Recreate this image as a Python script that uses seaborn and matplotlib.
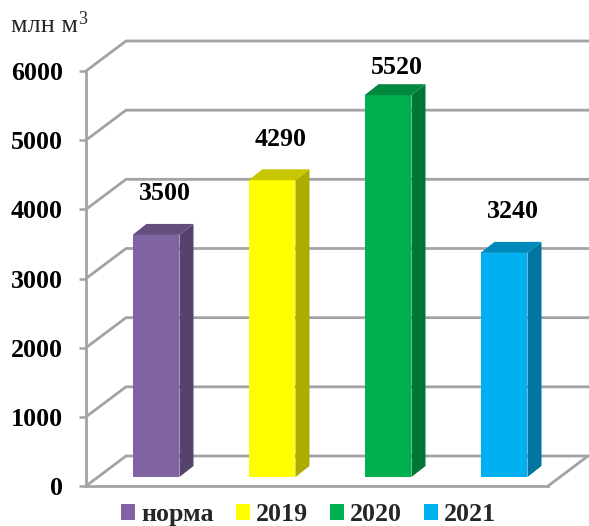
import colorsys

import matplotlib
matplotlib.use("Agg")
import matplotlib.pyplot as plt
import pandas as pd
import seaborn as sns
from matplotlib.colors import to_rgb
from matplotlib.patches import Polygon

categories = ["норма", "2019", "2020", "2021"]
volumes = [3500, 4290, 5520, 3240]
bar_colors = ["#8064A2", "#FFFF00", "#00B050", "#00B0F0"]
y_ticks = [0, 1000, 2000, 3000, 4000, 5000, 6000]

W, H = 589, 526
GRAY = "#A3A3A3"


def shade(color, factor):
    r, g, b = to_rgb(color)
    h, s, v = colorsys.rgb_to_hsv(r, g, b)
    return colorsys.hsv_to_rgb(h, s, v * factor)


sns.set_style("white")
plt.rcParams["font.family"] = ["Liberation Serif", "DejaVu Serif"]
plt.rcParams["font.weight"] = "bold"

fig = plt.figure(figsize=(W / 100, H / 100), dpi=100)
# front plane of the fake 3D box, in pixels: x 86-548, y 71-486
ax = fig.add_axes([86 / W, 1 - 486 / H, (548 - 86) / W, (486 - 71) / H])

df = pd.DataFrame({"cat": categories, "value": volumes})
sns.barplot(
    data=df, x="cat", y="value", hue="cat", order=categories, hue_order=categories,
    palette=bar_colors, width=0.405, saturation=1, legend="full", linewidth=0, ax=ax,
)

ax.set_xlim((86 - 156) / 116, (548 - 156) / 116)
ax.set_ylim(0, 6000)
px_x = (ax.get_xlim()[1] - ax.get_xlim()[0]) / (548 - 86)
px_y = 6000 / (486 - 71)


def to_x(px):
    return ax.get_xlim()[0] + (px - 86) * px_x


# walls and floor
back_dx, back_dy = 40 * px_x, 30 * px_y
left, right = ax.get_xlim()
far_right = to_x(W)
for tick in y_ticks:
    ax.plot(
        [left, left + back_dx, far_right],
        [tick, tick + back_dy, tick + back_dy],
        color=GRAY, lw=2.0, clip_on=False, zorder=1, solid_joinstyle="miter",
    )
ax.plot([right, right + back_dx], [0, back_dy], color=GRAY, lw=2.0, clip_on=False, zorder=1)

# bars sit a little behind the front plane; add side and top faces
lift = 9 * px_y
side_dx, side_dy = 14 * px_x, 11 * px_y
label_lift = [30, 30, 17, 30]
for patch, color, value, extra in zip(ax.patches, bar_colors, volumes, label_lift):
    x0 = patch.get_x()
    x1 = x0 + patch.get_width()
    patch.set_y(lift)
    patch.set_clip_on(False)
    patch.set_zorder(3)
    top = lift + value
    ax.add_patch(Polygon(
        [(x1, lift), (x1, top), (x1 + side_dx, top + side_dy), (x1 + side_dx, lift + side_dy)],
        closed=True, facecolor=shade(color, 0.67), edgecolor="none", clip_on=False, zorder=3,
    ))
    ax.add_patch(Polygon(
        [(x0, top), (x1, top), (x1 + side_dx, top + side_dy), (x0 + side_dx, top + side_dy)],
        closed=True, facecolor=shade(color, 0.78), edgecolor="none", clip_on=False, zorder=3,
    ))
    ax.text(
        (x0 + x1) / 2 + 9 * px_x, top + side_dy + extra * px_y, str(value),
        ha="center", va="center", fontsize=18.7, fontweight="bold", color="black", zorder=4,
    )

ax.set_xlabel("")
ax.set_ylabel("")
ax.set_xticks([])
ax.set_yticks(y_ticks)
ax.tick_params(axis="y", left=True, length=5, width=1.8, color=GRAY, pad=11.5, labelsize=18.7, labelcolor="black")
for label in ax.get_yticklabels():
    label.set_fontweight("bold")
for side in ["top", "right"]:
    ax.spines[side].set_visible(False)
for side in ["left", "bottom"]:
    ax.spines[side].set_color(GRAY)
    ax.spines[side].set_linewidth(2.0)
ax.patch.set_alpha(0)

sns.move_legend(
    ax, "lower left", bbox_to_anchor=(121 / W, 0), bbox_transform=fig.transFigure,
    ncol=4, frameon=False, title=None, fontsize=18.7,
    handlelength=0.54, handleheight=0.54, handletextpad=0.23, columnspacing=0.85,
    borderaxespad=0, borderpad=0,
)

fig.text(11 / W, 1 - 26 / H, "млн м", fontsize=18.8, fontweight="normal", va="center", ha="left")
fig.text(78 / W, 1 - 20 / H, "3", fontsize=13, fontweight="normal", va="center", ha="left")

fig.savefig("out.png", dpi=100)
